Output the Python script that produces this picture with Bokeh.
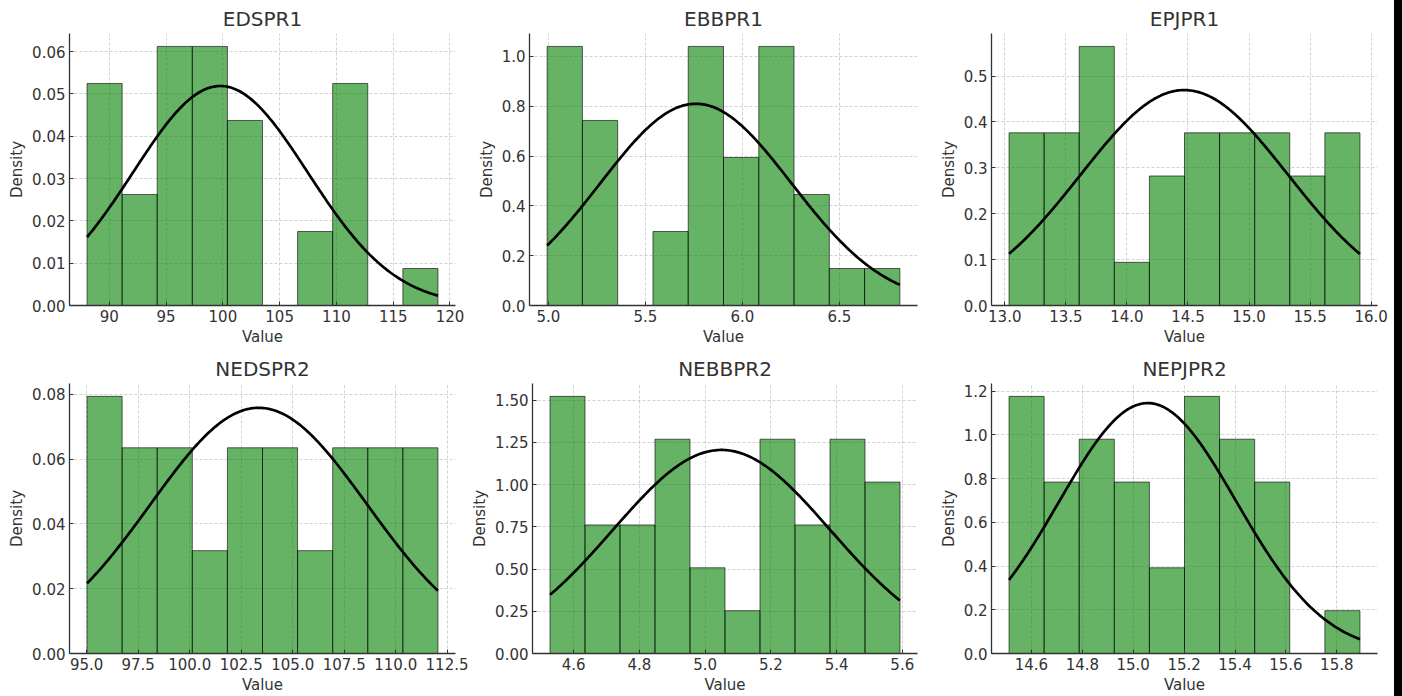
import numpy as np
from bokeh.plotting import figure
from bokeh.layouts import column, row
from bokeh.models import FixedTicker, Div
from bokeh.embed import file_html
from bokeh.resources import INLINE

# ---------------- data ----------------
titles = ["EDSPR1", "EBBPR1", "EPJPR1", "NEDSPR2", "NEBBPR2", "NEPJPR2"]

# histogram range (min/max of each sample) - 10 equal bins each
data_min = [88.04, 4.993, 13.035, 95.016, 4.528, 14.512]
data_max = [118.94, 6.812, 15.908, 112.05, 5.593, 15.891]

# bin counts (37 observations per variable)
counts_EDSPR1 = [6, 3, 7, 7, 5, 0, 2, 6, 0, 1]
counts_EBBPR1 = [7, 5, 0, 2, 7, 4, 7, 3, 1, 1]
counts_EPJPR1 = [4, 4, 6, 1, 3, 4, 4, 4, 3, 4]
counts_NEDSPR2 = [5, 4, 4, 2, 4, 4, 2, 4, 4, 4]
counts_NEBBPR2 = [6, 3, 3, 5, 2, 1, 5, 3, 5, 4]
counts_NEPJPR2 = [6, 4, 5, 4, 2, 6, 5, 4, 0, 1]
all_counts = [counts_EDSPR1, counts_EBBPR1, counts_EPJPR1,
              counts_NEDSPR2, counts_NEBBPR2, counts_NEPJPR2]

# fitted normal distribution parameters
fit_mean = [99.78, 5.76, 14.47, 103.35, 5.05, 15.057]
fit_std = [7.69, 0.4925, 0.85, 5.263, 0.331, 0.3484]

# tick labels
x_tick_labels = [
    ["90", "95", "100", "105", "110", "115", "120"],
    ["5.0", "5.5", "6.0", "6.5"],
    ["13.0", "13.5", "14.0", "14.5", "15.0", "15.5", "16.0"],
    ["95.0", "97.5", "100.0", "102.5", "105.0", "107.5", "110.0", "112.5"],
    ["4.6", "4.8", "5.0", "5.2", "5.4", "5.6"],
    ["14.6", "14.8", "15.0", "15.2", "15.4", "15.6", "15.8"],
]
y_tick_labels = [
    ["0.00", "0.01", "0.02", "0.03", "0.04", "0.05", "0.06"],
    ["0.0", "0.2", "0.4", "0.6", "0.8", "1.0"],
    ["0.0", "0.1", "0.2", "0.3", "0.4", "0.5"],
    ["0.00", "0.02", "0.04", "0.06", "0.08"],
    ["0.00", "0.25", "0.50", "0.75", "1.00", "1.25", "1.50"],
    ["0.0", "0.2", "0.4", "0.6", "0.8", "1.0", "1.2"],
]

# ---------------- styling / layout ----------------
FONT = "DejaVu Sans"
TXT = "#333333"
widths = [468, 468, 458]
left_b = [69, 61, 54]
right_b = [13, 19, 17]
heights = [350, 346]
top_b = [33, 33]
bot_b = [45, 42]


def make(i):
    r, c = divmod(i, 3)
    lo, hi = data_min[i], data_max[i]
    counts = np.array(all_counts[i], dtype=float)
    edges = np.linspace(lo, hi, len(counts) + 1)
    w = edges[1] - edges[0]
    dens = counts / (counts.sum() * w)
    pad = 0.05 * (hi - lo)
    ymax = dens.max() * 1.05

    p = figure(width=widths[c], height=heights[r],
               x_range=(lo - pad, hi + pad), y_range=(0, ymax),
               output_backend="svg", toolbar_location=None,
               min_border_left=left_b[c], min_border_right=right_b[c],
               min_border_top=top_b[r], min_border_bottom=bot_b[r])
    p.title.text = titles[i]
    p.title.align = "center"
    p.title.text_font = FONT
    p.title.text_font_size = "20px"
    p.title.text_font_style = "normal"
    p.title.text_color = TXT
    p.title.standoff = 6
    p.outline_line_color = None
    p.background_fill_color = "white"
    p.border_fill_color = "white"

    # bars
    p.quad(left=edges[:-1], right=edges[1:], bottom=0, top=dens,
           fill_color="green", fill_alpha=0.6,
           line_color="black", line_alpha=0.6, line_width=1)
    # normal curve
    xs = np.linspace(lo, hi, 200)
    mu, sd = fit_mean[i], fit_std[i]
    ys = np.exp(-0.5 * ((xs - mu) / sd) ** 2) / (sd * np.sqrt(2 * np.pi))
    p.line(xs, ys, line_color="black", line_width=2.7)

    xt = [float(s) for s in x_tick_labels[i]]
    yt = [float(s) for s in y_tick_labels[i]]
    p.xaxis.ticker = FixedTicker(ticks=xt)
    p.yaxis.ticker = FixedTicker(ticks=yt)
    p.xgrid.ticker = FixedTicker(ticks=xt)
    p.ygrid.ticker = FixedTicker(ticks=yt)
    p.xaxis.major_label_overrides = {v: s for v, s in zip(xt, x_tick_labels[i])}
    p.yaxis.major_label_overrides = {v: s for v, s in zip(yt, y_tick_labels[i])}

    for ax in (p.xaxis[0], p.yaxis[0]):
        ax.axis_line_color = "#333333"
        ax.axis_line_width = 1.3
        ax.major_tick_line_color = "#333333"
        ax.major_tick_in = 4
        ax.major_tick_out = 0
        ax.minor_tick_line_color = None
        ax.major_label_text_font = FONT
        ax.major_label_text_font_size = "15px"
        ax.major_label_text_color = TXT
        ax.major_label_standoff = 4
        ax.axis_label_text_font = FONT
        ax.axis_label_text_font_size = "15px"
        ax.axis_label_text_font_style = "normal"
        ax.axis_label_text_color = TXT
        ax.axis_label_standoff = 3
    p.xaxis.axis_label = "Value"
    p.yaxis.axis_label = "Density"

    for g in (p.xgrid[0], p.ygrid[0]):
        g.grid_line_color = "#b8b8b8"
        g.grid_line_alpha = 0.8
        g.grid_line_dash = "3 2"
        g.grid_line_width = 0.8
    return p


figs = [make(i) for i in range(6)]
edge1 = Div(width=8, height=heights[0], margin=0,
            styles={"background-color": "black"})
edge2 = Div(width=8, height=heights[1], margin=0,
            styles={"background-color": "black"})
layout = column(row(*figs[:3], edge1), row(*figs[3:], edge2))
open("out.html", "w").write(file_html(layout, INLINE))
